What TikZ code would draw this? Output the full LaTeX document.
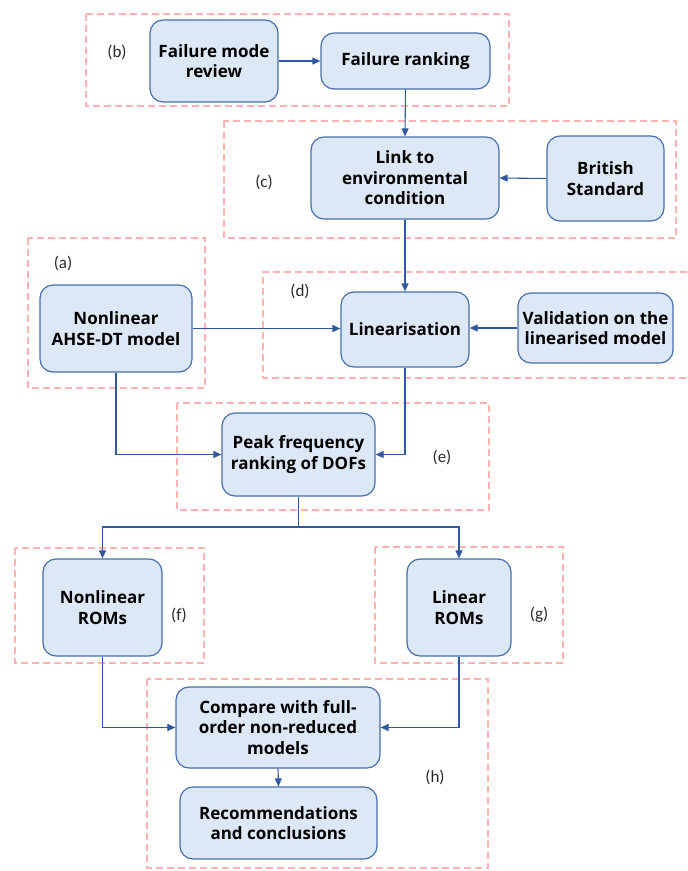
\documentclass[tikz,border=0pt]{standalone}
\usepackage{fontspec}
\setmainfont{Open Sans}
\newfontfamily\labfont{Carlito}
\usetikzlibrary{arrows.meta}
\definecolor{boxfill}{RGB}{220,232,246}
\definecolor{boxline}{RGB}{72,110,172}
\definecolor{arrowcol}{RGB}{50,88,160}
\definecolor{dashcol}{RGB}{255,178,178}
\definecolor{labcol}{RGB}{40,40,40}
\begin{document}
\begin{tikzpicture}[x=1pt,y=-1pt,
  proc/.style={draw=boxline, fill=boxfill, line width=1.2pt, rounded corners=13pt,
    align=center, font=\bfseries\fontsize{17}{20.5}\selectfont, inner sep=0pt},
  grp/.style={draw=dashcol, line width=1.6pt, dash pattern=on 7pt off 4pt},
  lab/.style={font=\labfont\fontsize{17}{20}\selectfont, text=labcol, inner sep=0pt},
  line/.style={draw=arrowcol, line width=1.1pt},
  conn/.style={line, -{Triangle[length=8pt,width=7pt]}}]

\useasboundingbox (0,0) rectangle (688,871);

% group frames
\draw[grp] (86,14) rectangle (509,106);
\draw[grp] (224,121) rectangle (676,238);
\draw[grp] (28,238) rectangle (205,388);
\draw[grp] (687,272) -| (263,378) -- (687,378);
\draw[grp] (177,403) rectangle (489,510);
\draw[grp] (15,548) rectangle (204,663);
\draw[grp] (375,547) rectangle (563,663);
\draw[grp] (147,679) rectangle (488,868);

% group labels
\node[lab] (lb) at (117,52) {(b)};
\node[lab] (lc) at (264,182) {(c)};
\node[lab] (la) at (63,263) {(a)};
\node[lab] (ld) at (300,291) {(d)};
\node[lab] (le) at (442,457) {(e)};
\node[lab] (lf) at (179,615) {(f)};
\node[lab] (lg) at (539,615) {(g)};
\node[lab] (lh) at (435,777) {(h)};

% process boxes
\node[proc, minimum width=128pt, minimum height=82pt] (fmr) at (214,61) {Failure mode\\review};
\node[proc, minimum width=169pt, minimum height=56pt] (fr) at (405.5,61) {Failure ranking};
\node[proc, minimum width=188pt, minimum height=82pt] (link) at (405,178) {Link to\\environmental\\condition};
\node[proc, minimum width=117pt, minimum height=85pt] (bs) at (605.5,178.5) {British\\Standard};
\node[proc, minimum width=152pt, minimum height=87pt] (nl) at (116,328.5) {Nonlinear\\AHSE-DT model};
\node[proc, minimum width=128pt, minimum height=75pt] (lin) at (405,329.5) {Linearisation};
\node[proc, minimum width=155pt, minimum height=70pt] (val) at (595.5,328) {Validation on the\\linearised model};
\node[proc, minimum width=153pt, minimum height=83pt] (pk) at (298.5,454.5) {Peak frequency\\ranking of DOFs};
\node[proc, minimum width=119pt, minimum height=97pt] (nrom) at (102.5,607.5) {Nonlinear\\ROMs};
\node[proc, minimum width=104pt, minimum height=97pt] (lrom) at (459,607.5) {Linear\\ROMs};
\node[proc, minimum width=204pt, minimum height=81pt] (cmp) at (278,727.5) {Compare with full-\\order non-reduced\\models};
\node[proc, minimum width=197pt, minimum height=72pt] (rec) at (278.5,823) {Recommendations\\and conclusions};

% connectors
\draw[conn] (fmr.east) -- (fr.west);
\draw[conn] (fr.south) -- (link.north);
\draw[conn] (bs.west) -- (link.east);
\draw[conn] (link.south) -- (lin.north);
\draw[conn] (nl.east) -- (nl.east -| lin.west);
\draw[conn] (val.west) -- (val.west -| lin.east);
\draw[conn] (nl.south) |- (pk.west);
\draw[conn] (lin.south) |- (pk.east);
\coordinate (sp) at (298.5,527);
\draw[line] (pk.south) -- (sp);
\draw[conn] (sp) -| (nrom.north);
\draw[conn] (sp) -| (lrom.north);
\draw[conn] (nrom.south) |- (cmp.west);
\draw[conn] (lrom.south) |- (cmp.east);
\draw[conn] (cmp.south) -- (rec.north);
\end{tikzpicture}
\end{document}
